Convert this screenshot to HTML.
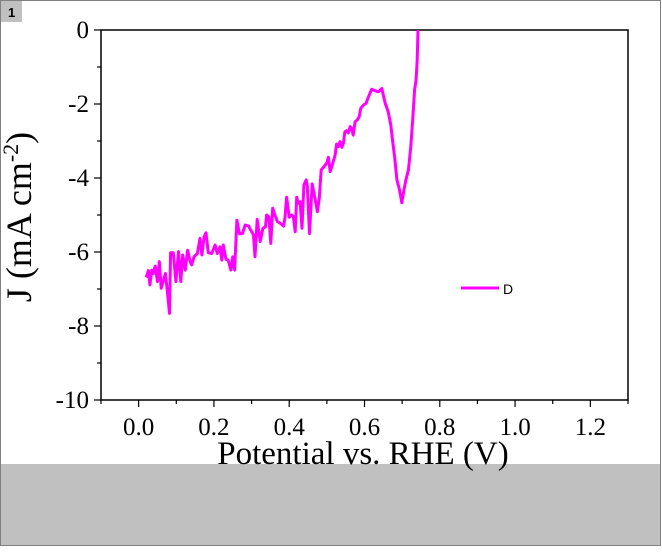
<!DOCTYPE html>
<html><head><meta charset="utf-8"><style>
html,body{margin:0;padding:0;background:#fff;}
body{width:662px;height:547px;overflow:hidden;position:relative;font-family:"Liberation Serif",serif;}
</style></head><body>
<svg width="662" height="547" viewBox="0 0 662 547" xmlns="http://www.w3.org/2000/svg">
<rect x="0.5" y="0.5" width="660" height="545" fill="#fff" stroke="#808080"/>
<rect x="1" y="464" width="659" height="81" fill="#c0c0c0"/>
<rect x="1" y="1" width="21" height="21" fill="#c0c0c0"/>
<text x="8" y="17" font-family="Liberation Sans, sans-serif" font-size="13" font-weight="bold">1</text>
<g id="axes"></g>
<g id="series"></g>
<line x1="461" y1="288" x2="499" y2="288" stroke="#ff00ff" stroke-width="3"/>
<text x="503" y="294" font-family="Liberation Sans, sans-serif" font-size="14">D</text>
<text x="363" y="464" text-anchor="middle" font-size="33">Potential vs. RHE (V)</text>
<text transform="translate(31,217) rotate(-90)" text-anchor="middle" font-size="36">J (mA cm<tspan dy="-13" font-size="22">-2</tspan><tspan dy="13">)</tspan></text>
</svg>
<script>
const xTicks=[0.0,0.2,0.4,0.6,0.8,1.0,1.2];
const xTickLabels=["0.0","0.2","0.4","0.6","0.8","1.0","1.2"];
const yTicks=[0,-2,-4,-6,-8,-10];
const yTickLabels=["0","-2","-4","-6","-8","-10"];
const potential=[0.020,0.026,0.030,0.035,0.039,0.044,0.050,0.055,0.060,0.066,0.071,0.076,0.082,0.085,0.092,0.099,0.106,0.112,0.117,0.124,0.130,0.137,0.141,0.147,0.156,0.163,0.168,0.174,0.179,0.185,0.194,0.203,0.209,0.216,0.221,0.225,0.232,0.238,0.245,0.250,0.255,0.261,0.268,0.276,0.283,0.292,0.298,0.305,0.309,0.315,0.323,0.330,0.337,0.340,0.346,0.351,0.356,0.362,0.369,0.377,0.385,0.389,0.393,0.400,0.407,0.411,0.416,0.420,0.424,0.429,0.434,0.439,0.445,0.448,0.454,0.461,0.469,0.475,0.480,0.485,0.491,0.500,0.504,0.509,0.516,0.522,0.526,0.531,0.535,0.540,0.544,0.548,0.553,0.557,0.562,0.566,0.570,0.575,0.581,0.586,0.590,0.597,0.604,0.610,0.619,0.628,0.637,0.646,0.655,0.663,0.670,0.675,0.680,0.686,0.693,0.699,0.705,0.710,0.717,0.723,0.728,0.733,0.737,0.740,0.742];
const currentD=[-6.69,-6.50,-6.89,-6.49,-6.58,-6.38,-6.80,-6.26,-6.98,-6.76,-6.58,-7.05,-7.66,-6.02,-6.02,-6.80,-5.99,-6.80,-6.08,-6.49,-5.95,-6.26,-6.35,-6.13,-6.04,-5.63,-6.08,-5.59,-5.48,-6.02,-6.04,-5.81,-6.04,-5.86,-6.22,-5.81,-6.20,-6.22,-6.49,-6.13,-6.49,-5.14,-5.51,-5.50,-5.27,-5.30,-5.41,-5.54,-6.13,-5.12,-5.72,-5.36,-5.32,-5.00,-5.05,-5.77,-4.82,-5.00,-5.18,-5.23,-5.30,-5.05,-4.52,-5.06,-5.00,-5.05,-5.45,-4.52,-4.68,-4.64,-5.36,-4.19,-4.05,-4.22,-5.50,-4.16,-4.58,-4.91,-4.55,-3.78,-3.71,-3.59,-3.44,-3.83,-3.59,-3.38,-3.08,-3.15,-3.02,-3.17,-3.06,-2.75,-2.72,-2.78,-2.61,-2.66,-2.84,-2.48,-2.43,-2.34,-2.12,-2.03,-1.98,-1.82,-1.60,-1.64,-1.67,-1.58,-1.98,-2.21,-2.57,-3.02,-3.42,-4.05,-4.32,-4.67,-4.32,-4.05,-3.77,-3.15,-2.43,-1.62,-1.35,-0.81,0];
const X0=-0.1,X1=1.3,Y0=-10,Y1=0;
const L=101,R=628,T=30,B=400;
function sx(v){return L+(v-X0)/(X1-X0)*(R-L);}
function sy(v){return B-(v-Y0)/(Y1-Y0)*(B-T);}
const NS="http://www.w3.org/2000/svg";
const axes=document.getElementById('axes');
function mk(tag,attrs,parent){const e=document.createElementNS(NS,tag);for(const k in attrs)e.setAttribute(k,attrs[k]);parent.appendChild(e);return e;}
const frame=mk('rect',{x:L,y:T,width:R-L,height:B-T,fill:'none',stroke:'#000','stroke-width':1.5},axes);


for(let v=-0.1;v<=1.301;v+=0.1){
  const isMajor=xTicks.some(t=>Math.abs(t-v)<1e-6);
  const t=mk('line',{x1:sx(v),x2:sx(v),y1:B,y2:B+(isMajor?7:4),stroke:'#000','stroke-width':1.2},axes);
  
  
}
xTicks.forEach((v,i)=>{
  const t=mk('text',{x:sx(v),y:435,'text-anchor':'middle','font-size':25},axes);
  t.textContent=xTickLabels[i];
  
  
});
for(let v=0;v>=-10;v-=1){
  const isMajor=v%2===0;
  const t=mk('line',{x1:L,x2:L-(isMajor?7:4),y1:sy(v),y2:sy(v),stroke:'#000','stroke-width':1.2},axes);
  
  
}
yTicks.forEach((v,i)=>{
  const t=mk('text',{x:89,y:sy(v)+8,'text-anchor':'end','font-size':25},axes);
  t.textContent=yTickLabels[i];
  
  
});
const pts=potential.map((x,i)=>sx(x).toFixed(1)+','+sy(currentD[i]).toFixed(1)).join(' ');
const line=mk('polyline',{points:pts,fill:'none',stroke:'#ff00ff','stroke-width':3,'stroke-linejoin':'round'},document.getElementById('series'));


</script>
</body></html>
